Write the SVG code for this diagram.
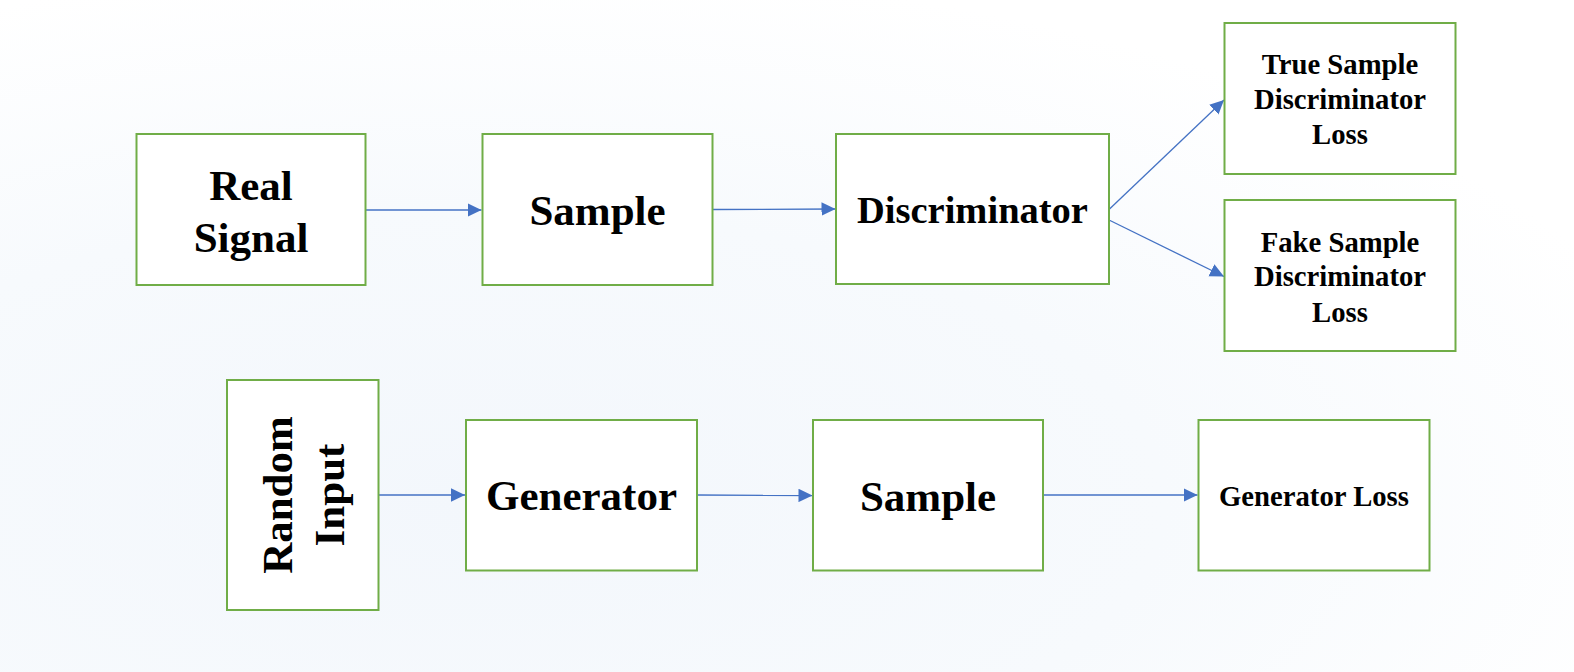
<svg xmlns="http://www.w3.org/2000/svg" width="1574" height="672" viewBox="0 0 1574 672">
<style>
.box{fill:#ffffff;stroke:#70AD47;stroke-width:2}
.t{font-family:"Liberation Serif","Times New Roman",serif;font-weight:bold;fill:#000;text-anchor:middle}
.big{font-size:43px}
.mid{font-size:38.5px}
.sm{font-size:28.7px}
.con{stroke:#4472C4;stroke-width:1.3;fill:none;marker-end:url(#arr)}
</style>
<defs>
<radialGradient id="bg" cx="0.3" cy="0.75" r="0.8">
<stop offset="0" stop-color="#f3f7fc"/>
<stop offset="0.55" stop-color="#f7fafd"/>
<stop offset="1" stop-color="#ffffff"/>
</radialGradient>
<marker id="arr" viewBox="0 0 14 14" refX="14" refY="7" markerWidth="14" markerHeight="14" markerUnits="userSpaceOnUse" orient="auto">
<path d="M0,0.3 L14,7 L0,13.7 Z" fill="#4472C4"/>
</marker>
</defs>
<rect width="1574" height="672" fill="url(#bg)"/>
<g id="connectors">
<line class="con" x1="366" y1="210" x2="481.5" y2="210"/>
<line class="con" x1="713" y1="209.5" x2="835.5" y2="209"/>
<line class="con" x1="1109" y1="209.5" x2="1224" y2="100"/>
<line class="con" x1="1109" y1="220" x2="1224" y2="276.5"/>
<line class="con" x1="379" y1="495" x2="465" y2="495"/>
<line class="con" x1="697" y1="495" x2="812.5" y2="495.5"/>
<line class="con" x1="1043.5" y1="495" x2="1197.5" y2="495"/>
</g>
<g id="real-signal">
<rect class="box" x="136.5" y="134" width="229" height="151"/>
<text class="t big" x="251" y="200">Real</text>
<text class="t big" x="251" y="252">Signal</text>
</g>
<g id="sample-top">
<rect class="box" x="482.5" y="134" width="230" height="151"/>
<text class="t big" x="597.5" y="225">Sample</text>
</g>
<g id="discriminator">
<rect class="box" x="836" y="134" width="273" height="150"/>
<text class="t mid" x="972.5" y="223">Discriminator</text>
</g>
<g id="true-loss">
<rect class="box" x="1224.5" y="23" width="231" height="151"/>
<text class="t sm" x="1340" y="73.5">True Sample</text>
<text class="t sm" x="1340" y="108.5">Discriminator</text>
<text class="t sm" x="1340" y="143.5">Loss</text>
</g>
<g id="fake-loss">
<rect class="box" x="1224.5" y="200" width="231" height="151"/>
<text class="t sm" x="1340" y="251.5">Fake Sample</text>
<text class="t sm" x="1340" y="286">Discriminator</text>
<text class="t sm" x="1340" y="321.5">Loss</text>
</g>
<g id="random-input">
<rect class="box" x="227" y="380" width="151.5" height="230"/>
<text class="t big" transform="translate(291.5,495) rotate(-90)">Random</text>
<text class="t big" transform="translate(343.5,495) rotate(-90)">Input</text>
</g>
<g id="generator">
<rect class="box" x="466" y="420" width="231" height="150.5"/>
<text class="t big" x="581.5" y="510">Generator</text>
</g>
<g id="sample-bottom">
<rect class="box" x="813" y="420" width="230" height="150.5"/>
<text class="t big" x="928" y="511">Sample</text>
</g>
<g id="generator-loss">
<rect class="box" x="1198.5" y="420" width="231" height="150.5"/>
<text class="t sm" x="1314" y="505.5">Generator Loss</text>
</g>
</svg>
